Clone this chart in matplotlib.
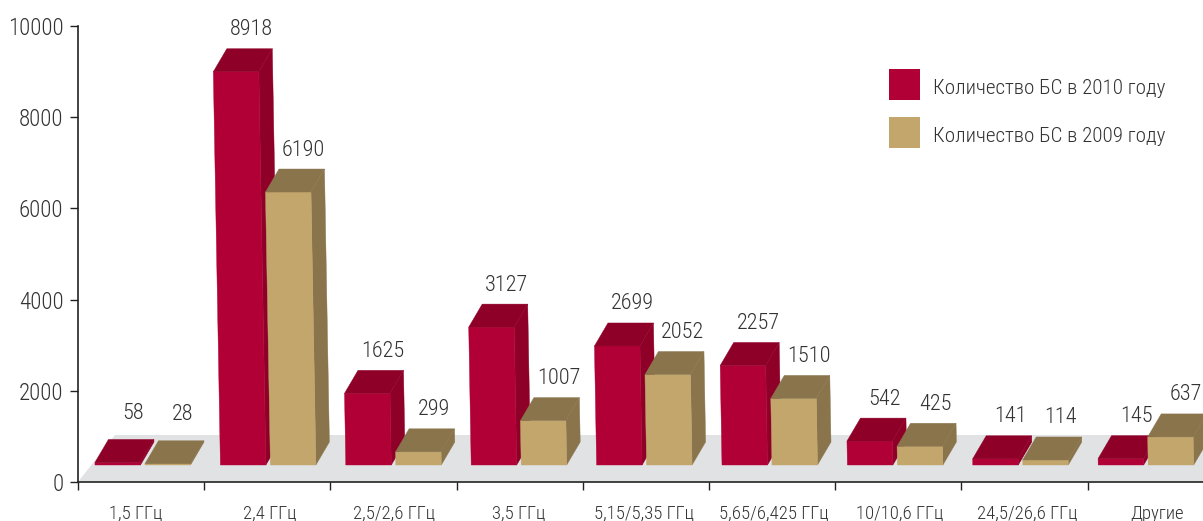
import matplotlib
matplotlib.use("Agg")
import matplotlib.pyplot as plt
from matplotlib.patches import Polygon, Rectangle

plt.rcParams["font.family"] = ["Roboto Condensed", "IBM Plex Sans Condensed", "Liberation Sans", "DejaVu Sans"]
plt.rcParams["font.weight"] = 300

# Data
categories = ["1,5 ГГц", "2,4 ГГц", "2,5/2,6 ГГц", "3,5 ГГц", "5,15/5,35 ГГц",
              "5,65/6,425 ГГц", "10/10,6 ГГц", "24,5/26,6 ГГц", "Другие"]
bs_2010 = [58, 8918, 1625, 3127, 2699, 2257, 542, 141, 145]
bs_2009 = [28, 6190, 299, 1007, 2052, 1510, 425, 114, 637]
legend_labels = ["Количество БС в 2010 году", "Количество БС в 2009 году"]
y_ticks = [0, 2000, 4000, 6000, 8000, 10000]

W, H = 1203, 521
LEFT, BOTTOM, TOP = 78, 482, 26
GROUP_PX = 126.2
PX_Y = (BOTTOM - TOP) / 10000
LABEL_CENTERS = [136, 270, 394, 519, 644, 774, 900, 1027, 1157]

RED, RED_DARK = "#b00035", "#8f0028"
TAN, TAN_DARK = "#c3a66c", "#8a744c"
TEXT = "#333333"


def px_x(px):
    return (px - LEFT) / GROUP_PX


def px_y(px):
    return (BOTTOM - px) / PX_Y


def draw_bar(ax, x_left, value, front, dark):
    # pseudo 3d bar, pixel sizes come from the original layout
    base = 465
    top = base - value * 0.0441
    lean = (base - top) * 0.018
    w, dx, dy = 45.5, 13.5, 23
    x0 = x_left - lean
    pts_front = [(x_left, base), (x_left + w, base), (x0 + w, top), (x0, top)]
    pts_top = [(x0, top), (x0 + w, top), (x0 + w + dx, top - dy), (x0 + dx, top - dy)]
    pts_side = [(x_left + w, base), (x_left + w + dx, base - dy),
                (x0 + w + dx, top - dy), (x0 + w, top)]
    for pts, col in [(pts_side, dark), (pts_front, front), (pts_top, dark)]:
        xy = [(px_x(a), px_y(b)) for a, b in pts]
        ax.add_patch(Polygon(xy, closed=True, facecolor=col, edgecolor=col, lw=0.3, zorder=3))
    # the two tiny bars have their labels set higher
    gap = 26 if value < 100 else 19
    return x0 + 38, top - dy - gap


def main():
    fig = plt.figure(figsize=(W / 100, H / 100), dpi=100)
    ax = fig.add_axes([LEFT / W, 1 - BOTTOM / H, (W - LEFT) / W, (BOTTOM - TOP) / H])
    ax.set_xlim(0, (W - LEFT) / GROUP_PX)
    ax.set_ylim(0, 10000)

    # grey floor
    floor = [(78, 482), (115, 435), (1203, 435), (1203, 482)]
    ax.add_patch(Polygon([(px_x(a), px_y(b)) for a, b in floor], closed=True,
                         facecolor="#e1e2e4", edgecolor="none", zorder=1))

    for i in range(len(categories)):
        x_red = 95 + i * 125.4
        x_tan = x_red + 50
        for x_left, value, front, dark in [(x_red, bs_2010[i], RED, RED_DARK),
                                           (x_tan, bs_2009[i], TAN, TAN_DARK)]:
            tx, ty = draw_bar(ax, x_left, value, front, dark)
            ax.text(px_x(tx), px_y(ty), str(value), ha="center", va="center",
                    fontsize=16, color=TEXT, zorder=5, clip_on=False)
        ax.text(px_x(LABEL_CENTERS[i]), px_y(514), categories[i], ha="center", va="center",
                fontsize=13.5, color=TEXT, clip_on=False)

    # axes
    for side in ["top", "right"]:
        ax.spines[side].set_visible(False)
    for side in ["left", "bottom"]:
        ax.spines[side].set_linewidth(1.2)
        ax.spines[side].set_color("#222222")
    ax.set_yticks(y_ticks)
    ax.set_xticks(range(len(categories)))
    ax.set_xticklabels([])
    ax.tick_params(axis="y", length=5.5, width=1.0, color="#222222",
                   labelsize=16.5, labelcolor=TEXT, pad=5)
    ax.tick_params(axis="x", length=5.5, width=1.0, color="#222222")

    # legend
    for y, col, label in [(69, RED, legend_labels[0]), (117, TAN, legend_labels[1])]:
        ax.add_patch(Rectangle((px_x(889), px_y(y + 31)), 31 / GROUP_PX, 31 / PX_Y,
                               facecolor=col, edgecolor="none", zorder=4))
        ax.text(px_x(933), px_y(y + 20), label, ha="left", va="center",
                fontsize=15.1, color=TEXT)

    plt.savefig("out.png", dpi=100)


if __name__ == "__main__":
    main()
